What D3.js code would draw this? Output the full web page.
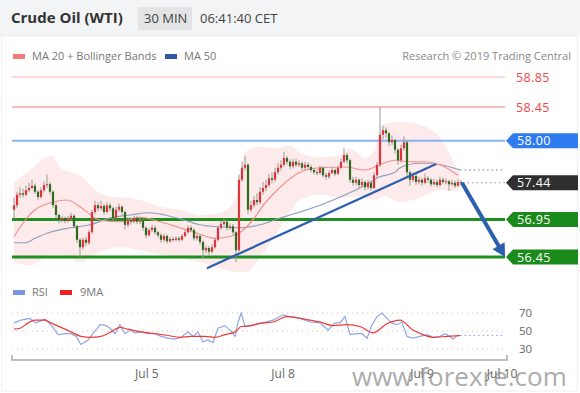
<!DOCTYPE html>
<html><head><meta charset="utf-8">
<script src="https://cdn.jsdelivr.net/npm/d3@7/dist/d3.min.js"></script>
<style>
html,body{margin:0;padding:0;background:#fff;}
svg{display:block;}
text{font-family:"Open Sans","DejaVu Sans",sans-serif;}
</style></head>
<body>
<svg id="c" width="580" height="393"></svg>
<script>
// ---------- DATA ----------
const title = "Crude Oil (WTI)";
const timeframe = "30 MIN";
const clock = "06:41:40 CET";
const credit = "Research \u00a9 2019 Trading Central";
const opens = [57.08,57.14,57.28,57.30,57.28,57.34,57.37,57.40,57.32,57.25,
57.34,57.41,57.42,57.32,57.14,57.01,56.94,56.97,56.93,56.96,
57.00,56.86,56.68,56.58,56.68,56.64,56.78,57.05,57.14,57.10,
57.13,57.05,57.14,57.10,56.97,57.08,57.12,57.05,56.88,56.94,
56.92,56.97,56.92,56.94,56.84,56.74,56.81,56.84,56.78,56.74,
56.68,56.73,56.66,56.69,56.68,56.70,56.68,56.73,56.78,56.84,
56.81,56.70,56.73,56.65,56.54,56.57,56.52,56.58,56.68,56.84,
56.89,56.92,56.84,56.86,56.78,56.54,57.48,57.64,57.68,57.08,
57.14,57.21,57.18,57.32,57.37,57.41,57.50,57.48,57.58,57.64,
57.68,57.77,57.72,57.66,57.72,57.68,57.70,57.64,57.68,57.65,
57.61,57.58,57.57,57.64,57.54,57.52,57.57,57.61,57.56,57.64,
57.72,57.81,57.74,57.48,57.44,57.48,57.41,57.45,57.38,57.44,
57.37,57.54,57.68,58.08,58.14,58.10,57.98,58.01,57.88,57.74,
57.90,57.98,57.58,57.48,57.53,57.45,57.48,57.44,57.50,57.48,
57.42,57.45,57.41,57.48,57.45,57.46,57.42,57.44,57.40,57.45];
const highs = [57.24,57.32,57.38,57.36,57.40,57.44,57.48,57.43,57.34,57.38,
57.46,57.55,57.45,57.34,57.17,57.03,57.00,56.99,57.00,57.04,
57.02,56.88,56.70,56.71,56.72,56.81,57.08,57.20,57.18,57.20,
57.16,57.18,57.17,57.12,57.12,57.16,57.14,57.07,56.98,56.98,
57.00,57.00,56.98,56.96,56.86,56.84,56.88,56.87,56.80,56.77,
56.76,56.75,56.72,56.72,56.73,56.73,56.76,56.81,56.87,56.87,
56.83,56.76,56.75,56.67,56.60,56.60,56.62,56.71,56.87,56.93,
56.96,56.94,56.90,56.89,56.80,57.55,57.72,57.80,57.70,57.20,
57.26,57.30,57.38,57.45,57.48,57.56,57.58,57.64,57.70,57.74,
57.85,57.80,57.75,57.76,57.76,57.74,57.72,57.72,57.71,57.68,
57.64,57.62,57.67,57.66,57.57,57.60,57.65,57.63,57.67,57.76,
57.90,57.84,57.76,57.52,57.52,57.50,57.50,57.47,57.48,57.46,
57.58,57.72,58.45,58.20,58.18,58.12,58.07,58.03,57.90,57.95,
58.06,58.00,57.60,57.58,57.56,57.52,57.51,57.56,57.53,57.50,
57.49,57.48,57.52,57.51,57.50,57.48,57.48,57.47,57.49,57.48];
const lows = [56.97,57.10,57.24,57.24,57.26,57.31,57.35,57.29,57.21,57.23,
57.31,57.37,57.28,57.10,56.97,56.90,56.91,56.90,56.91,56.94,
56.83,56.64,56.45,56.55,56.60,56.61,56.76,57.02,57.06,57.07,
57.01,57.03,57.06,56.93,56.95,57.05,57.01,56.82,56.85,56.88,
56.90,56.89,56.89,56.80,56.70,56.72,56.78,56.75,56.71,56.64,
56.65,56.63,56.64,56.65,56.66,56.65,56.66,56.71,56.76,56.78,
56.67,56.67,56.61,56.44,56.50,56.48,56.50,56.56,56.66,56.81,
56.86,56.80,56.81,56.74,56.38,56.52,57.45,57.60,57.02,57.05,
57.11,57.14,57.15,57.28,57.33,57.38,57.43,57.45,57.55,57.60,
57.65,57.68,57.62,57.63,57.65,57.65,57.61,57.61,57.62,57.58,
57.55,57.54,57.55,57.51,57.48,57.49,57.55,57.53,57.54,57.62,
57.70,57.70,57.44,57.40,57.41,57.37,57.38,57.34,57.35,57.33,
57.35,57.50,57.65,58.02,58.04,57.93,57.94,57.83,57.68,57.71,
57.87,57.52,57.40,57.45,57.41,57.42,57.40,57.42,57.44,57.39,
57.40,57.38,57.39,57.42,57.42,57.33,57.40,57.37,57.38,57.41];
const closes = [57.14,57.28,57.30,57.28,57.34,57.37,57.40,57.32,57.25,57.34,
57.41,57.42,57.32,57.14,57.01,56.94,56.97,56.93,56.96,57.00,
56.86,56.68,56.58,56.68,56.64,56.78,57.05,57.14,57.10,57.13,
57.05,57.14,57.10,56.97,57.08,57.12,57.05,56.88,56.94,56.92,
56.97,56.92,56.94,56.84,56.74,56.81,56.84,56.78,56.74,56.68,
56.73,56.66,56.69,56.68,56.70,56.68,56.73,56.78,56.84,56.81,
56.70,56.73,56.65,56.54,56.57,56.52,56.58,56.68,56.84,56.89,
56.92,56.84,56.86,56.78,56.54,57.48,57.64,57.68,57.08,57.14,
57.21,57.18,57.32,57.37,57.41,57.50,57.48,57.58,57.64,57.68,
57.77,57.72,57.66,57.72,57.68,57.70,57.64,57.68,57.65,57.61,
57.58,57.57,57.64,57.54,57.52,57.57,57.61,57.56,57.64,57.72,
57.81,57.74,57.48,57.44,57.48,57.41,57.45,57.38,57.44,57.37,
57.54,57.68,58.08,58.14,58.10,57.98,58.01,57.88,57.74,57.90,
57.98,57.58,57.48,57.53,57.45,57.48,57.44,57.50,57.48,57.42,
57.45,57.41,57.48,57.45,57.46,57.42,57.44,57.40,57.45,57.44];

// Bollinger band / moving averages, sampled at candle indices
const bandIdx  = [0,5.3,10.3,12.7,15.3,18.7,22,25.3,28.7,33,37.7,42,48.7,55.3,62,68.7,73.7,77,82,87,92,95.3,102,108.7,112,117,120.3,122.7,125.3,128.7,135.3,142,145.3,148.7];
const bandUpper= [57.44,57.61,57.77,57.80,57.65,57.58,57.54,57.41,57.30,57.25,57.24,57.21,57.12,57.08,57.01,57.04,57.21,57.84,57.92,57.90,57.94,57.84,57.78,57.81,57.90,57.77,57.88,58.21,58.24,58.25,58.21,58.04,57.81,57.58];
const lowIdx   = [0,5.3,10.3,15.3,22,28.7,35.3,42,48.7,55.3,62,68.7,73.7,77,82,88.7,95.3,102,108.7,115.3,120.3,123.7,128.7,135.3,142,148.7];
const bandLower= [56.38,56.34,56.44,56.48,56.38,56.52,56.58,56.54,56.48,56.44,56.38,56.30,56.25,56.25,56.44,56.84,57.21,57.28,57.24,57.26,57.21,57.26,57.18,57.24,57.34,57.32];
const ma20Idx  = [0,3.7,7,12,17.7,22,28.7,35.3,42,48.7,55.3,60.3,67,73.7,78.7,83.7,88.7,95.3,102,110.3,117,122,127,132,137,142,148];
const ma20     = [56.72,56.94,57.08,57.17,57.21,57.12,56.94,56.92,56.98,56.92,56.84,56.78,56.70,56.74,56.90,57.17,57.38,57.58,57.64,57.65,57.61,57.68,57.74,57.72,57.72,57.68,57.54];
const ma50Idx  = [0,3.7,7,12,18.7,25.3,32,38.7,45.3,50.3,57,62,68.7,75.3,82,88.7,95.3,102,108.7,115.3,122,127,128.7,135.3,142,148.7];
const ma50     = [56.64,56.64,56.70,56.78,56.84,56.88,56.97,57.01,57.04,57.01,56.94,56.88,56.85,56.84,56.88,56.97,57.05,57.14,57.25,57.37,57.52,57.58,57.64,57.70,57.68,57.61];

// Horizontal levels
const levels      = [58.85, 58.45, 58.00, 57.44, 56.95, 56.45];
const levelKinds  = ["r2","r1","pivot","last","s1","s2"];

// Trend line and forecast arrow [index, price]
const trendStart = [64.3, 56.30], trendEnd = [140.7, 57.69];
const arrowStart = [149.3, 57.44], arrowEnd = [163.7, 56.45];

// RSI panel
const rsiIdx = [0,2.3,5.3,7.3,10.3,12.3,14.7,17,19,20.7,22.3,24.7,26.3,28.7,30.7,32,33.7,35.3,37,38.7,40.3,42.3,44.7,47,49,51.3,53.7,55.7,58,59.7,61.3,63,64.7,66.3,68,70.3,72,73.7,74.7,75.7,77,79,81.3,83,86.3,89.7,92,95.3,98.7,102,104.7,107,108.7,110.3,112,114.3,116,117.7,119.3,121,122.7,124.3,126,127.7,129.3,131,133,135.3,137.7,139.7,142,143.7,145.3,146.3,147.7,148.7];
const rsiVal = [59,62,64,59,63,57,46,47,47,44,35,40,47,57,56,53,47,57,47,51,48,49,47,47,44,42,41,43,49,44,49,38,40,37,53,56,51,44,60,70,55,56,58,59,62,68,66,64,60,59,51,59,59,66,46,47,47,42,57,66,70,64,59,57,60,44,42,44,46,43,44,47,44,41,45,45];
const maIdx = [0,2,4.7,7,10.3,12.3,15.7,19,22.3,25.7,29,32.3,35.3,38,42.3,47,51.3,55.3,59,63.7,67,70.3,73.7,75.7,79,81.3,86.3,91,98.7,103,106.3,111,115.3,119.7,124.3,128.7,133,136.3,139.7,144.3,148.7];
const maVal = [52,53,59,62,62,59,54,49,44,43,44,49,54,52,49,47,45,43,44,44,43,46,49,55,56,58,60,66,62,59,56,57,55,48,58,62,51,46,43,44,45];
const rsiLevels = [70, 50, 30];

// Time axis
const tickIdx = [44.3, 89.7, 136, 162.7];
const tickLabels = ["Jul 5", "Jul 8", "Jul 9", "Jul 10"];

// ---------- DRAW ----------
const svg = d3.select("#c");
const x = d3.scaleLinear().domain([0, 164]).range([14, 506]);
const y = d3.scaleLinear().domain([56.45, 58.85]).range([257, 77]);
const yr = d3.scaleLinear().domain([30, 70]).range([349, 313]);
const X0 = 12, X1 = 506;

// backgrounds
svg.append("rect").attr("x",0).attr("y",0).attr("width",580).attr("height",393).attr("fill","#fff");
svg.append("rect").attr("x",0).attr("y",0).attr("width",580).attr("height",36).attr("fill","#f2f4f5");
svg.append("rect").attr("x",1.5).attr("y",36).attr("width",576).attr("height",355).attr("fill","none").attr("stroke","#eef0f1");

// header
svg.append("text").attr("x",11).attr("y",23).attr("font-size",15).attr("font-weight","bold").attr("fill","#333").text(title);
svg.append("rect").attr("x",138).attr("y",7).attr("width",54).attr("height",23).attr("fill","#e2e4e5");
svg.append("text").attr("x",144).attr("y",23).attr("font-size",13).attr("fill","#444").text(timeframe);
svg.append("text").attr("x",200).attr("y",23).attr("font-size",13).attr("fill","#444").text(clock);

// legend
svg.append("rect").attr("x",13).attr("y",54).attr("width",12).attr("height",5).attr("fill","#f47a7a");
svg.append("text").attr("x",32).attr("y",60).attr("font-size",11).attr("fill","#777").text("MA 20 + Bollinger Bands");
svg.append("rect").attr("x",165).attr("y",54).attr("width",12).attr("height",5).attr("fill","#3456a8");
svg.append("text").attr("x",184).attr("y",60).attr("font-size",11).attr("fill","#777").text("MA 50");
svg.append("text").attr("x",571).attr("y",60).attr("font-size",11).attr("fill","#888").attr("text-anchor","end").text(credit);

// Bollinger band area
const lineGen = d3.line().curve(d3.curveMonotoneX);
const upperPts = bandIdx.map((d,i)=>[x(d), y(bandUpper[i])]);
const lowerPts = lowIdx.map((d,i)=>[x(d), y(bandLower[i])]);
(function(){
  const tmp = svg.append("path").attr("d", lineGen(upperPts)).attr("fill","none");
  const tmp2 = svg.append("path").attr("d", lineGen(lowerPts)).attr("fill","none");
  const n1 = tmp.node(), n2 = tmp2.node();
  const L1 = n1.getTotalLength(), L2 = n2.getTotalLength();
  const pts = [];
  for (let s=0;s<=L1;s+=1){const p=n1.getPointAtLength(s);pts.push([p.x,p.y]);}
  const lp=[];
  for (let s=0;s<=L2;s+=1){const p=n2.getPointAtLength(s);lp.push([p.x,p.y]);}
  tmp.remove(); tmp2.remove();
  const poly = pts.concat(lp.reverse());
  svg.append("path").attr("d","M"+poly.map(p=>p.join(",")).join("L")+"Z")
     .attr("fill","#fcdcdc").attr("opacity",0.6);
})();

// level lines
const levelStyle = {
  r2:{c:"#f9b4b4",w:1}, r1:{c:"#ee7b7b",w:1}, pivot:{c:"#8ab0f2",w:2.2},
  s1:{c:"#1f9020",w:3}, s2:{c:"#1f9020",w:3}
};
levels.forEach((v,i)=>{
  const k = levelKinds[i];
  if (k==="last") return;
  svg.append("line").attr("x1",X0).attr("x2",X1-1).attr("y1",y(v)).attr("y2",y(v))
    .attr("stroke",levelStyle[k].c).attr("stroke-width",levelStyle[k].w);
});

// MA lines
svg.append("path").attr("d", lineGen(ma50Idx.map((d,i)=>[x(d),y(ma50[i])])))
  .attr("fill","none").attr("stroke","#8d9fc0").attr("stroke-width",1.2);
svg.append("path").attr("d", lineGen(ma20Idx.map((d,i)=>[x(d),y(ma20[i])])))
  .attr("fill","none").attr("stroke","#f39090").attr("stroke-width",1.2);
const lastI = closes.length-1;
svg.append("line").attr("x1",x(ma50Idx[ma50Idx.length-1])).attr("x2",X1-1)
  .attr("y1",y(ma50[ma50.length-1])).attr("y2",y(ma50[ma50.length-1]))
  .attr("stroke","#5a7cc8").attr("stroke-width",1.2).attr("stroke-dasharray","1.5,3");
svg.append("line").attr("x1",x(lastI)+2).attr("x2",X1-1)
  .attr("y1",y(closes[lastI])).attr("y2",y(closes[lastI]))
  .attr("stroke","#999").attr("stroke-width",1.2).attr("stroke-dasharray","1.5,3");

// candles
const cg = svg.append("g");
closes.forEach((c,i)=>{
  const o = opens[i], up = c>=o;
  const cx = x(i);
  cg.append("line").attr("x1",cx).attr("x2",cx).attr("y1",y(highs[i])).attr("y2",y(lows[i]))
    .attr("stroke","#9a9a9a").attr("stroke-width",1);
  const top = y(Math.max(o,c)), bot = y(Math.min(o,c));
  cg.append("rect").attr("x",cx-1.1).attr("width",2.2).attr("y",top).attr("height",Math.max(1,bot-top))
    .attr("fill", up ? "#e0333a" : "#2f6a1f");
});

// trend line
svg.append("line").attr("x1",x(trendStart[0])).attr("y1",y(trendStart[1]))
  .attr("x2",x(trendEnd[0])).attr("y2",y(trendEnd[1]))
  .attr("stroke","#2d5fb0").attr("stroke-width",2.2);

// forecast arrow
(function(){
  const x1=x(arrowStart[0]), y1=y(arrowStart[1]), x2=x(arrowEnd[0]), y2=y(arrowEnd[1]);
  const dx=x2-x1, dy=y2-y1, L=Math.hypot(dx,dy), ux=dx/L, uy=dy/L;
  const hl=13, hw=7;
  const bx=x2-ux*hl, by=y2-uy*hl;
  svg.append("line").attr("x1",x1).attr("y1",y1).attr("x2",bx+ux*2).attr("y2",by+uy*2)
    .attr("stroke","#2d5fb0").attr("stroke-width",4);
  svg.append("path").attr("d",`M${x2},${y2}L${bx-uy*hw},${by+ux*hw}L${bx+uy*hw},${by-ux*hw}Z`)
    .attr("fill","#2d5fb0");
})();

// right labels
const badgeColor = {pivot:"#2f7cf0", last:"#2f2f2f", s1:"#1a8a1a", s2:"#1a8a1a"};
levels.forEach((v,i)=>{
  const k = levelKinds[i], yy = y(v);
  if (k==="r1"||k==="r2"){
    svg.append("text").attr("x",516).attr("y",yy+4.5).attr("font-size",12.5).attr("fill","#f04848")
      .attr("letter-spacing",0.4).text(v.toFixed(2));
  } else {
    const h=15;
    svg.append("path").attr("d",`M${506},${yy}L${513},${yy-h/2}L${578},${yy-h/2}L${578},${yy+h/2}L${513},${yy+h/2}Z`)
      .attr("fill",badgeColor[k]);
    svg.append("text").attr("x",517).attr("y",yy+4.5).attr("font-size",12.5).attr("fill","#fff")
      .attr("letter-spacing",0.4).text(v.toFixed(2));
  }
});

// RSI legend
svg.append("rect").attr("x",13).attr("y",290).attr("width",12).attr("height",5).attr("fill","#7a96e2");
svg.append("text").attr("x",32).attr("y",296).attr("font-size",11).attr("fill","#777").text("RSI");
svg.append("rect").attr("x",60).attr("y",290).attr("width",12).attr("height",5).attr("fill","#f02020");
svg.append("text").attr("x",80).attr("y",296).attr("font-size",11).attr("fill","#777").text("9MA");

// RSI grid
rsiLevels.forEach(v=>{
  svg.append("line").attr("x1",X0).attr("x2",X1-1).attr("y1",yr(v)).attr("y2",yr(v))
    .attr("stroke","#e2b8b8").attr("stroke-width",1).attr("stroke-dasharray","1,4");
  svg.append("text").attr("x",519).attr("y",yr(v)+4).attr("font-size",11.5).attr("fill","#666").text(v);
});
svg.append("path").attr("d", d3.line()(rsiIdx.map((d,i)=>[x(d),yr(rsiVal[i])])))
  .attr("fill","none").attr("stroke","#8ea6e8").attr("stroke-width",1.2);
svg.append("line").attr("x1",x(rsiIdx[rsiIdx.length-1])).attr("x2",X1-1)
  .attr("y1",yr(rsiVal[rsiVal.length-1])).attr("y2",yr(rsiVal[rsiVal.length-1]))
  .attr("stroke","#8ea6e8").attr("stroke-width",1.2).attr("stroke-dasharray","1.5,3");
svg.append("path").attr("d", d3.line().curve(d3.curveMonotoneX)(maIdx.map((d,i)=>[x(d),yr(maVal[i])])))
  .attr("fill","none").attr("stroke","#f03a3a").attr("stroke-width",1.2);

// x axis
svg.append("path").attr("d",`M${X0},355V360H${X1+1}V355`).attr("fill","none")
  .attr("stroke","#aaa").attr("stroke-width",1.5);
tickIdx.forEach((t,i)=>{
  svg.append("text").attr("x",x(t)).attr("y",378).attr("font-size",12).attr("fill","#666")
    .attr("text-anchor","middle").text(tickLabels[i]);
});

// watermark (drawn over the axis labels, as in the reference)
svg.append("text").attr("x",352).attr("y",386).attr("font-size",26).attr("fill","#8a8a8a").attr("opacity",0.7)
  .attr("font-family","'Liberation Sans',Arial,sans-serif").text("www.forexre.com");
</script>
</body></html>
